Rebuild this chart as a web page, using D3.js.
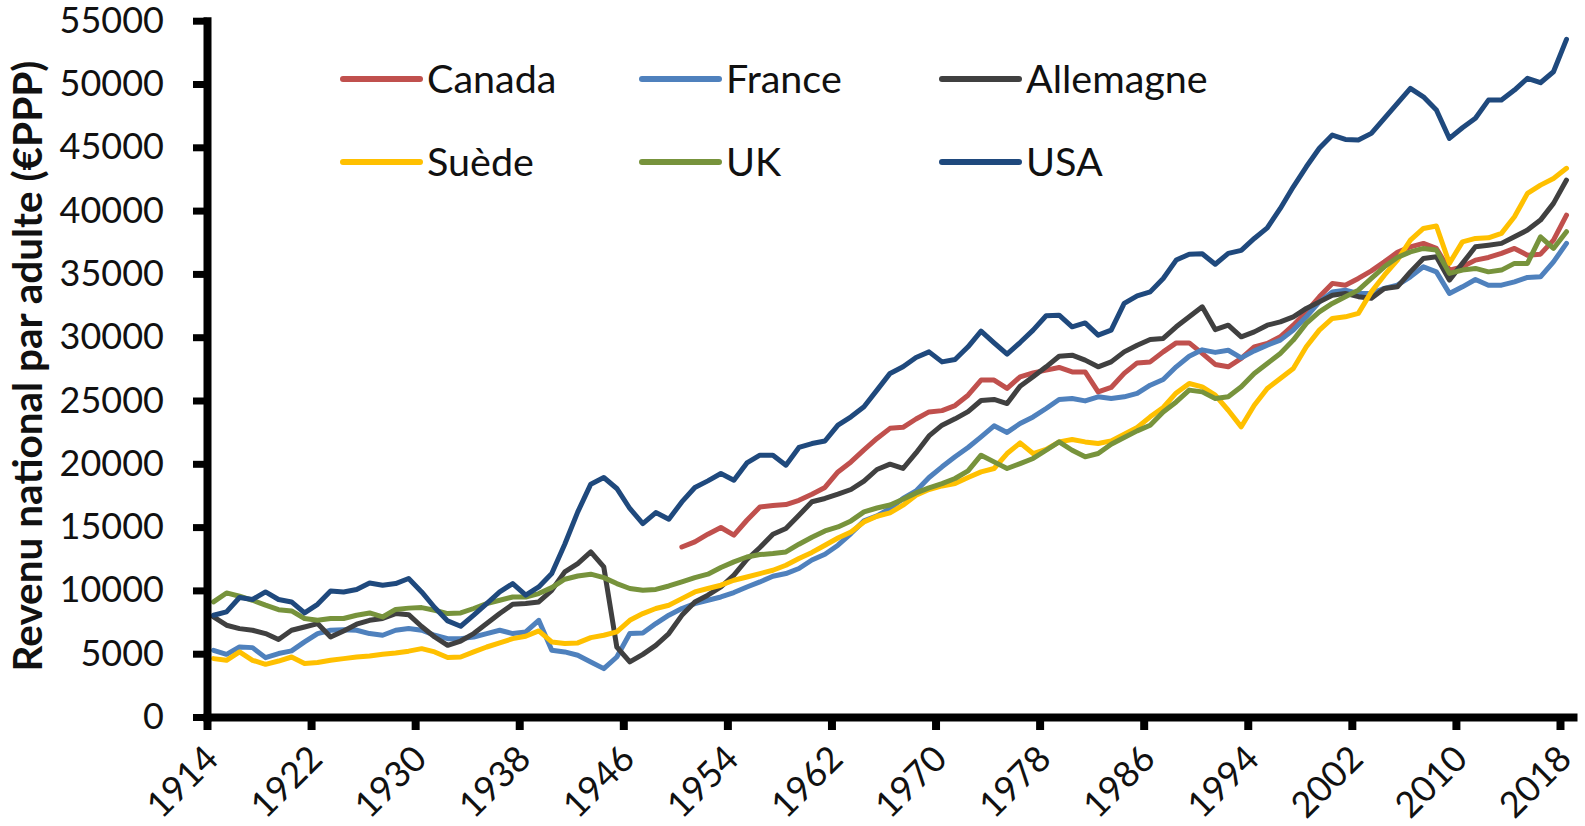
<!DOCTYPE html>
<html>
<head>
<meta charset="utf-8">
<script src="https://cdn.jsdelivr.net/npm/d3@7"></script>
<style>
  body { margin: 0; background: #fff; }
  text { font-family: Lato, "Open Sans", sans-serif; fill: #111; }
</style>
</head>
<body>
<div id="chart"></div>
<script>
// years 1914-2018
var years = d3.range(1914, 2019);

// series values (euros PPP per adult), one per year
var canada = [
  null, null, null, null, null, null, null, null, null, null,
  null, null, null, null, null, null, null, null, null, null,
  null, null, null, null, null, null, null, null, null, null,
  null, null, null, null, null, null,
  13430, 13830, 14440, 14970, 14360, 15540, 16590, 16700, 16780, 17120,
  17600, 18130, 19360, 20150, 21100, 22000, 22800, 22880, 23540, 24100,
  24200, 24600, 25420, 26610, 26610, 25950, 26870, 27180, 27400, 27610,
  27260, 27260, 25680, 26030, 27140, 27970, 28050, 28840, 29550, 29550,
  28720, 27850, 27660, 28320, 29240, 29500, 30030, 30950, 32000, 33190,
  34250, 34110, 34640, 35240, 35950, 36700, 37140, 37410, 37010, 35300,
  35560, 36090, 36300, 36620, 37010, 36480, 36560, 37670, 39640
];
var france = [
  5270, 4950, 5530, 5480, 4690, 5010, 5220, 5930, 6590, 6850,
  6900, 6850, 6590, 6460, 6850, 6990, 6850, 6460, 6190, 6190,
  6320, 6590, 6850, 6590, 6720, 7640, 5270, 5140, 4880, 4350,
  3820, 4740, 6590, 6640, 7380, 8040,
  8570, 8960, 9220, 9480, 9830, 10270, 10670, 11120, 11330, 11730,
  12400, 12850, 13570, 14490, 15490, 15880, 16470, 17260, 17860, 18920,
  19760, 20550, 21290, 22130, 23000, 22480, 23180, 23700, 24370, 25080,
  25160, 24970, 25290, 25160, 25290, 25560, 26210, 26660, 27660, 28500,
  29000, 28800, 28970, 28370, 28920, 29370, 29770, 30560, 31610, 32790,
  33580, 33720, 33460, 33460, 33850, 34110, 34770, 35560, 35160, 33460,
  33980, 34560, 34110, 34110, 34370, 34720, 34770, 35950, 37410
];
var allemagne = [
  7900, 7250, 6980, 6850, 6590, 6120, 6850, 7110, 7380, 6320,
  6800, 7330, 7640, 7780, 8170, 8080, 7150, 6320, 5660, 6000,
  6590, 7380, 8170, 8900, 8960, 9090, 10010, 11460, 12120, 13040,
  11850, 5530, 4350, 4950, 5660, 6590,
  8030, 9090, 9620, 10270, 11200, 12440, 13390, 14440, 14890, 15940,
  17000, 17260, 17600, 17970, 18630, 19550, 19970, 19630, 20860, 22200,
  23050, 23550, 24120, 25000, 25080, 24760, 26130, 26870, 27660, 28500,
  28580, 28190, 27660, 28050, 28840, 29370, 29820, 29900, 30820, 31610,
  32400, 30600, 30950, 30030, 30420, 30950, 31210, 31610, 32270, 32790,
  33320, 33460, 33200, 33070, 33850, 33980, 35160, 36220, 36350, 34510,
  35830, 37140, 37270, 37410, 37930, 38460, 39250, 40570, 42410
];
var suede = [
  4610, 4480, 5140, 4480, 4160, 4420, 4740, 4220, 4300, 4480,
  4610, 4740, 4820, 4950, 5060, 5200, 5400, 5140, 4700, 4740,
  5140, 5530, 5850, 6190, 6380, 6800, 5930, 5800, 5850, 6270,
  6460, 6720, 7640, 8170, 8570, 8830,
  9350, 9880, 10150, 10410, 10800, 11060, 11330, 11590, 11990, 12520,
  13000, 13570, 14140, 14620, 15410, 15860, 16120, 16730, 17520, 17970,
  18250, 18440, 18920, 19360, 19630, 20810, 21650, 20810, 21130, 21730,
  21920, 21730, 21600, 21810, 22340, 22870, 23710, 24450, 25600, 26340,
  26080, 25420, 24230, 22920, 24630, 25950, 26740, 27530, 29240, 30560,
  31480, 31610, 31880, 33580, 34900, 36090, 37670, 38590, 38780, 35830,
  37530, 37800, 37850, 38200, 39510, 41360, 42010, 42540, 43340
];
var uk = [
  9090, 9800, 9540, 9220, 8830, 8480, 8380, 7780, 7640, 7780,
  7780, 8040, 8220, 7900, 8500, 8600, 8640, 8430, 8170, 8220,
  8570, 8960, 9220, 9480, 9480, 9750, 10220, 10880, 11140, 11280,
  11010, 10540, 10150, 10010, 10080, 10350,
  10670, 11010, 11280, 11810, 12250, 12640, 12830, 12910, 13040, 13650,
  14200, 14700, 15010, 15490, 16200, 16510, 16750, 17200, 17700, 18100,
  18440, 18840, 19440, 20680, 20150, 19630, 20020, 20420, 21070, 21730,
  21070, 20550, 20810, 21550, 22080, 22600, 23050, 24100, 24890, 25820,
  25680, 25160, 25290, 26080, 27140, 27920, 28720, 29770, 31090, 32000,
  32670, 33190, 33720, 34640, 35560, 36300, 36740, 37010, 36880, 35040,
  35300, 35430, 35160, 35300, 35830, 35830, 37930, 37010, 38330
];
var usa = [
  8040, 8300, 9440, 9280, 9880, 9280, 9090, 8220, 8900, 9960,
  9880, 10070, 10590, 10410, 10540, 10940, 9880, 8650, 7590, 7170,
  8040, 8960, 9880, 10540, 9620, 10270, 11330, 13650, 16200, 18390,
  18920, 18050, 16470, 15280, 16150, 15620,
  16990, 18130, 18650, 19230, 18700, 20070, 20680, 20680, 19890, 21290,
  21600, 21800, 23050, 23710, 24500, 25820, 27140, 27660, 28400, 28840,
  28050, 28240, 29240, 30480, 29550, 28660, 29580, 30560, 31690, 31740,
  30820, 31130, 30160, 30560, 32670, 33270, 33580, 34640, 36090, 36560,
  36590, 35760, 36620, 36860, 37800, 38640, 40170, 41880, 43460, 44920,
  45970, 45620, 45570, 46100, 47290, 48470, 49660, 48990, 47940, 45700,
  46540, 47290, 48730, 48730, 49520, 50450, 50100, 50970, 53530
];

var seriesNames = ["Canada", "France", "Allemagne", "Suède", "UK", "USA"];
var seriesValues = [canada, france, allemagne, suede, uk, usa];
var seriesColors = ["#C0504D", "#4F81BD", "#404040", "#FFC000", "#77933C", "#1F497D"];

var xTicks = d3.range(1914, 2019, 8);
var yTicks = d3.range(0, 55001, 5000);

// layout
var svgWidth = 1585;
var svgHeight = 826;
var margin = { top: 20.7, right: 12, bottom: 109, left: 207 };
var width = svgWidth - margin.left - margin.right;
var height = svgHeight - margin.top - margin.bottom;

var svg = d3.select("#chart")
  .append("svg")
  .attr("width", svgWidth)
  .attr("height", svgHeight);

var chartGroup = svg.append("g")
  .attr("transform", `translate(${margin.left}, ${margin.top})`);

// one category per year, points sit in the middle of each category
var xScale = d3.scaleLinear().domain([1914, 2019]).range([0, width]);
var yScale = d3.scaleLinear().domain([0, 55000]).range([height, 0]);

// lines
var line = d3.line()
  .defined(d => d.v != null)
  .x(d => xScale(d.year + 0.5))
  .y(d => yScale(d.v));

seriesValues.forEach(function (vals, i) {
  var pts = years.map((yr, j) => ({ year: yr, v: vals[j] }));
  chartGroup.append("path")
    .datum(pts)
    .attr("d", line)
    .attr("fill", "none")
    .attr("stroke", seriesColors[i])
    .attr("stroke-width", 5)
    .attr("stroke-linejoin", "round")
    .attr("stroke-linecap", "round");
});

// y axis
var leftAxis = d3.axisLeft(yScale)
  .tickValues(yTicks)
  .tickSize(14)
  .tickSizeOuter(0)
  .tickPadding(29)
  .tickFormat(d3.format("d"));

var yAxisG = chartGroup.append("g").call(leftAxis);
yAxisG.select(".domain").attr("stroke", "#000").attr("stroke-width", 8).attr("stroke-linecap", "square");
yAxisG.selectAll(".tick line").attr("stroke", "#000").attr("stroke-width", 7);
yAxisG.selectAll(".tick text")
  .style("font-family", "Lato, sans-serif")
  .style("font-size", "36px")
  .attr("fill", "#111");

// x axis
var bottomAxis = d3.axisBottom(xScale)
  .tickValues(xTicks)
  .tickSize(13)
  .tickSizeOuter(0)
  .tickFormat(d3.format("d"));

var xAxisG = chartGroup.append("g")
  .attr("transform", `translate(0, ${height})`)
  .call(bottomAxis);
xAxisG.select(".domain").attr("stroke", "#000").attr("stroke-width", 8).attr("stroke-linecap", "square");
xAxisG.selectAll(".tick line").attr("stroke", "#000").attr("stroke-width", 8);
xAxisG.selectAll(".tick text")
  .attr("y", 0)
  .attr("dy", 0)
  .attr("text-anchor", "end")
  .attr("transform", "translate(13, 44) rotate(-45)")
  .style("font-family", "Lato, sans-serif")
  .style("font-size", "36px")
  .attr("fill", "#111");

// y axis title
svg.append("text")
  .attr("transform", "translate(42, 366) rotate(-90)")
  .attr("text-anchor", "middle")
  .style("font-size", "40.5px")
  .style("font-weight", "bold")
  .text("Revenu national par adulte (€PPP)");

// legend, 3 columns x 2 rows
var legendX = [343, 642, 942];
var legendY = [79, 162];
var legend = svg.append("g");
seriesNames.forEach(function (name, i) {
  var lx = legendX[i % 3];
  var ly = legendY[Math.floor(i / 3)];
  legend.append("line")
    .attr("x1", lx).attr("x2", lx + 77)
    .attr("y1", ly).attr("y2", ly)
    .attr("stroke", seriesColors[i])
    .attr("stroke-width", 6)
    .attr("stroke-linecap", "round");
  legend.append("text")
    .attr("x", lx + 84)
    .attr("y", ly)
    .attr("dy", "0.36em")
    .style("font-size", "39.5px")
    .text(name);
});
</script>
</body>
</html>
